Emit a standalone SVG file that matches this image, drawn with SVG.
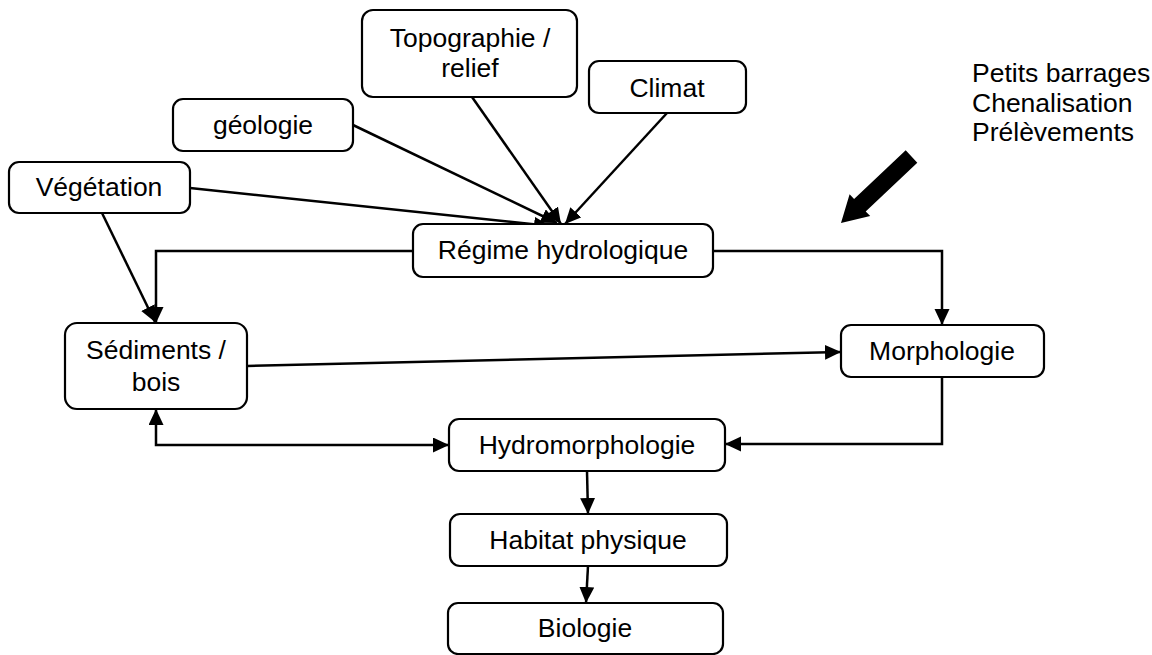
<svg xmlns="http://www.w3.org/2000/svg" width="1152" height="655" viewBox="0 0 1152 655">
<style>
.box{fill:#fff;stroke:#000;stroke-width:2.2}
.t{font-family:"Liberation Sans",Arial,sans-serif;font-size:26.5px;fill:#000;text-anchor:middle}
.tl{font-family:"Liberation Sans",Arial,sans-serif;font-size:26.5px;fill:#000}
.c{fill:none;stroke:#000;stroke-width:2.5;marker-end:url(#ah)}
</style>
<defs>
<marker id="ah" markerUnits="userSpaceOnUse" markerWidth="17" markerHeight="16" refX="16" refY="7.5" orient="auto-start-reverse" viewBox="0 0 17 16">
<path d="M0,0 L16,7.5 L0,15 z" fill="#000"/>
</marker>
</defs>
<rect width="1152" height="655" fill="#fff"/>
<g id="connectors">
<path class="c" d="M190,188 L550,226"/>
<path class="c" d="M353,125 L557,223"/>
<path class="c" d="M472,97 L561,224"/>
<path class="c" d="M667,113 L565,224"/>
<path class="c" d="M413,251 L156,251 L156,323"/>
<path class="c" d="M102,213 L155,322"/>
<path class="c" d="M713,251 L942,251 L942,325"/>
<path class="c" d="M247,366 L841,352"/>
<path class="c" d="M942,377 L942,444 L725,444"/>
<path class="c" d="M156,409 L156,445 L449,445" style="marker-start:url(#ah)"/>
<path class="c" d="M587,471 L588,514"/>
<path class="c" d="M588,566 L586,603"/>
<polygon points="905.7,150.3 917.3,162.7 865.7,211.4 870.2,216.1 841,223 849.6,194.3 854.1,199" fill="#000"/>
</g>
<g id="topographie"><rect class="box" x="362" y="10" width="215" height="87" rx="11"/><text class="t" x="470" y="47">Topographie /</text><text class="t" x="470" y="77">relief</text></g>
<g id="climat"><rect class="box" x="589" y="61" width="157" height="52" rx="10"/><text class="t" x="667" y="97">Climat</text></g>
<g id="geologie"><rect class="box" x="173" y="99" width="180" height="52" rx="10"/><text class="t" x="263" y="134">géologie</text></g>
<g id="vegetation"><rect class="box" x="9" y="162" width="181" height="51" rx="10"/><text class="t" x="99" y="196">Végétation</text></g>
<g id="regime"><rect class="box" x="413" y="224" width="300" height="53" rx="10"/><text class="t" x="563" y="259">Régime hydrologique</text></g>
<g id="sediments"><rect class="box" x="65" y="323" width="182" height="86" rx="12"/><text class="t" x="156" y="359">Sédiments /</text><text class="t" x="156" y="391">bois</text></g>
<g id="morphologie"><rect class="box" x="841" y="325" width="203" height="52" rx="10"/><text class="t" x="942" y="360">Morphologie</text></g>
<g id="hydromorphologie"><rect class="box" x="449" y="419" width="276" height="52" rx="10"/><text class="t" x="587" y="454">Hydromorphologie</text></g>
<g id="habitat"><rect class="box" x="450" y="514" width="277" height="52" rx="10"/><text class="t" x="588" y="549">Habitat physique</text></g>
<g id="biologie"><rect class="box" x="448" y="603" width="275" height="51" rx="10"/><text class="t" x="585" y="637">Biologie</text></g>
<g id="pressions"><text class="tl" x="972" y="82">Petits barrages</text><text class="tl" x="972" y="112">Chenalisation</text><text class="tl" x="972" y="141">Prélèvements</text></g>
</svg>
